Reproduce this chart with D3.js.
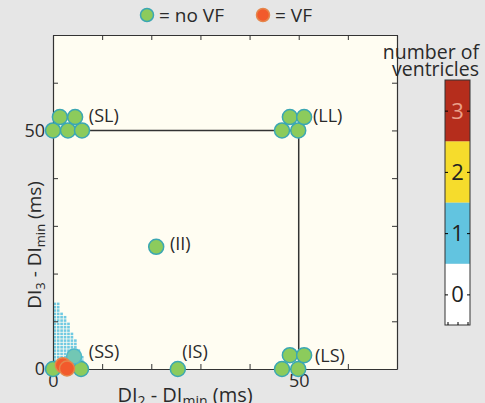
<!DOCTYPE html>
<html>
<head>
<meta charset="utf-8">
<script src="https://d3js.org/d3.v7.min.js"></script>
<style>
  body { margin: 0; background: #e6e6e6; }
  text { font-family: "Open Sans", "Noto Sans", sans-serif; fill: #2a2a2a; }
</style>
</head>
<body>
<svg id="chart" width="485" height="403"></svg>
<script>
// scatter points (ms)
const ptX  = [0, 3.05, 5.9, 1.4, 4.5,   46.6, 49.9, 48.2, 51.1,   46.6, 49.9, 48.2, 51.1,   21, 25.4,   0, 5.7, 4.3, 2.0, 2.85];
const ptY  = [50, 50, 50, 52.8, 52.8,   50, 50, 52.8, 52.8,       0, 0, 2.9, 2.9,           25.6, 0,    0, 0, 2.6, 0.8, 0.1];
const ptVF = ["no","no","no","no","no", "no","no","no","no", "no","no","no","no", "no","no", "no","no","mix","vf","vf"];

// group labels
const labNames = ["(SL)", "(LL)", "(II)", "(SS)", "(IS)", "(LS)"];
const labX = [7.3, 52.9, 23.8, 7.3, 26.3, 53.3];
const labY = [51.8, 51.8, 25.0, 2.3, 2.3, 1.5];

// path SL -> LL -> LS
const pathX = [0, 50, 50];
const pathY = [50, 50, 0];

// ventricle-count grid near the origin: column tops (ms), cell = 0.7 ms
const cellSize = 0.7;
const colTops = [14.2, 14.2, 11.8, 11.3, 9.7, 7.8, 6.1, 4.4, 2.6];
const hotCells = [[1, 2, 2], [2, 2, 2], [2, 1, 3], [3, 1, 3]]; // [col, row, count]

// colour bar
const cbValues = [0, 1, 2, 3];
const cbColors = ["#ffffff", "#62c4e0", "#f6dc2c", "#b52d1c"];

const xTicks = [0, 10, 20, 30, 40, 50, 60, 70];
const yTicks = [0, 10, 20, 30, 40, 50, 60, 70];
const tickLabels = [0, 50];

const svg = d3.select("#chart");

const x = d3.scaleLinear().domain([0, 70]).range([53, 397]);
const y = d3.scaleLinear().domain([0, 70]).range([369, 35]);

// plot background
svg.append("rect")
  .attr("x", x(0)).attr("y", y(70))
  .attr("width", x(70) - x(0)).attr("height", y(0) - y(70))
  .attr("fill", "#fffdf2");

// grid cells
const cellW = x(cellSize) - x(0);
const cellH = y(0) - y(cellSize);
const cells = [];
colTops.forEach((top, c) => {
  const rows = Math.round(top / cellSize);
  for (let r = 0; r < rows; r++) cells.push({ c, r, v: 1 });
});
hotCells.forEach(([c, r, v]) => cells.push({ c, r, v }));

svg.append("g").selectAll("rect")
  .data(cells)
  .join("rect")
  .attr("x", d => x(d.c * cellSize) + 0.4)
  .attr("y", d => y((d.r + 1) * cellSize) + 0.4)
  .attr("width", cellW - 0.8)
  .attr("height", cellH - 0.8)
  .attr("fill", d => cbColors[d.v])
  .attr("opacity", 0.9);

// axes (inward ticks, box style)
const fmt = d => tickLabels.includes(d) ? d : "";
const axB = svg.append("g").attr("transform", `translate(0,${y(0)})`)
  .call(d3.axisBottom(x).tickValues(xTicks).tickSizeInner(-5).tickSizeOuter(0).tickPadding(5).tickFormat(fmt));
const axL = svg.append("g").attr("transform", `translate(${x(0)},0)`)
  .call(d3.axisLeft(y).tickValues(yTicks).tickSizeInner(-5).tickSizeOuter(0).tickPadding(8).tickFormat(fmt));
const axT = svg.append("g").attr("transform", `translate(0,${y(70)})`)
  .call(d3.axisTop(x).tickValues(xTicks).tickSizeInner(-5).tickSizeOuter(0).tickFormat(""));
const axR = svg.append("g").attr("transform", `translate(${x(70)},0)`)
  .call(d3.axisRight(y).tickValues(yTicks).tickSizeInner(-5).tickSizeOuter(0).tickFormat(""));

[axB, axL, axT, axR].forEach(a => {
  a.select(".domain").attr("stroke", "#333").attr("stroke-width", 1.2);
  a.selectAll(".tick line").attr("stroke", "#333");
  a.selectAll(".tick text").attr("font-size", 18).attr("fill", "#2a2a2a")
    .style("font-family", "'Open Sans', sans-serif");
});

// SL-LL-LS path
const line = d3.line().x(i => x(pathX[i])).y(i => y(pathY[i]));
svg.append("path")
  .attr("d", line(d3.range(pathX.length)))
  .attr("fill", "none")
  .attr("stroke", "#333")
  .attr("stroke-width", 1.5);

// points
const fillFor = { no: "#8ccb5c", vf: "#f25a2c", mix: "#72c7b4" };
const strokeFor = { no: "#3ba7b3", vf: "#e5864a", mix: "#4fb8c8" };
svg.append("g").selectAll("circle")
  .data(d3.range(ptX.length))
  .join("circle")
  .attr("cx", i => x(ptX[i]))
  .attr("cy", i => y(ptY[i]))
  .attr("r", 7.5)
  .attr("fill", i => fillFor[ptVF[i]])
  .attr("stroke", i => strokeFor[ptVF[i]])
  .attr("stroke-width", 1.5);

// group labels
svg.append("g").selectAll("text")
  .data(labNames)
  .join("text")
  .attr("x", (d, i) => x(labX[i]))
  .attr("y", (d, i) => y(labY[i]))
  .attr("font-size", 18)
  .text(d => d);

// axis titles
const xt = svg.append("text")
  .attr("x", 185).attr("y", 402)
  .attr("text-anchor", "middle")
  .attr("font-size", 20);
xt.append("tspan").text("DI");
xt.append("tspan").attr("font-size", 14).attr("dy", 4).text("2");
xt.append("tspan").attr("dy", -4).text(" - DI");
xt.append("tspan").attr("font-size", 14).attr("dy", 4).text("min");
xt.append("tspan").attr("dy", -4).text(" (ms)");

const yt = svg.append("text")
  .attr("transform", `translate(41,${y(26)}) rotate(-90)`)
  .attr("text-anchor", "middle")
  .attr("font-size", 19);
yt.append("tspan").text("DI");
yt.append("tspan").attr("font-size", 13).attr("dy", 4).text("3");
yt.append("tspan").attr("dy", -4).text(" - DI");
yt.append("tspan").attr("font-size", 13).attr("dy", 4).text("min");
yt.append("tspan").attr("dy", -4).text(" (ms)");

// legend
const legItems = [{ k: "no", label: "= no VF", cx: 147 }, { k: "vf", label: "= VF", cx: 263 }];
const leg = svg.append("g").selectAll("g").data(legItems).join("g");
leg.append("circle")
  .attr("cx", d => d.cx).attr("cy", 15).attr("r", 6.5)
  .attr("fill", d => fillFor[d.k]).attr("stroke", d => strokeFor[d.k]).attr("stroke-width", 1.5);
leg.append("text")
  .attr("x", d => d.cx + 12).attr("y", 22)
  .attr("font-size", 19)
  .text(d => d.label);

// colour bar
const cb = d3.scaleLinear().domain([-0.5, 3.5]).range([325, 80]);
const cbX0 = 445, cbX1 = 470;
svg.append("g").selectAll("rect")
  .data(cbValues)
  .join("rect")
  .attr("x", cbX0)
  .attr("y", d => cb(d + 0.5))
  .attr("width", cbX1 - cbX0)
  .attr("height", d => cb(d - 0.5) - cb(d + 0.5))
  .attr("fill", (d, i) => cbColors[i]);
svg.append("rect")
  .attr("x", cbX0).attr("y", cb(3.5))
  .attr("width", cbX1 - cbX0).attr("height", cb(-0.5) - cb(3.5))
  .attr("fill", "none").attr("stroke", "#333").attr("stroke-width", 1);

svg.append("g").attr("transform", `translate(${cbX0},0)`)
  .call(d3.axisLeft(cb).tickValues(cbValues).tickSizeInner(-3).tickSizeOuter(0).tickFormat(""))
  .call(g => g.select(".domain").remove());
svg.append("g").attr("transform", `translate(${cbX1},0)`)
  .call(d3.axisRight(cb).tickValues(cbValues).tickSizeInner(-3).tickSizeOuter(0).tickFormat(""))
  .call(g => g.select(".domain").remove());
const cbx = d3.scaleLinear().domain([0, 1]).range([cbX0, cbX1]);
svg.append("g").attr("transform", `translate(0,${cb(-0.5)})`)
  .call(d3.axisBottom(cbx).tickValues([0.1, 0.5, 0.9]).tickSizeInner(-3).tickSizeOuter(0).tickFormat(""))
  .call(g => g.select(".domain").remove());

svg.append("g").selectAll("text")
  .data(cbValues)
  .join("text")
  .attr("x", (cbX0 + cbX1) / 2)
  .attr("y", d => cb(d) + 8)
  .attr("text-anchor", "middle")
  .attr("font-size", 22)
  .style("fill", d => d === 3 ? "#eaa08a" : "#222")
  .text(d => d);

svg.append("text")
  .attr("x", 479).attr("y", 59)
  .attr("text-anchor", "end")
  .attr("font-size", 19.5)
  .text("number of");
svg.append("text")
  .attr("x", 479).attr("y", 76)
  .attr("text-anchor", "end")
  .attr("font-size", 19.5)
  .text("ventricles");
</script>
</body>
</html>
